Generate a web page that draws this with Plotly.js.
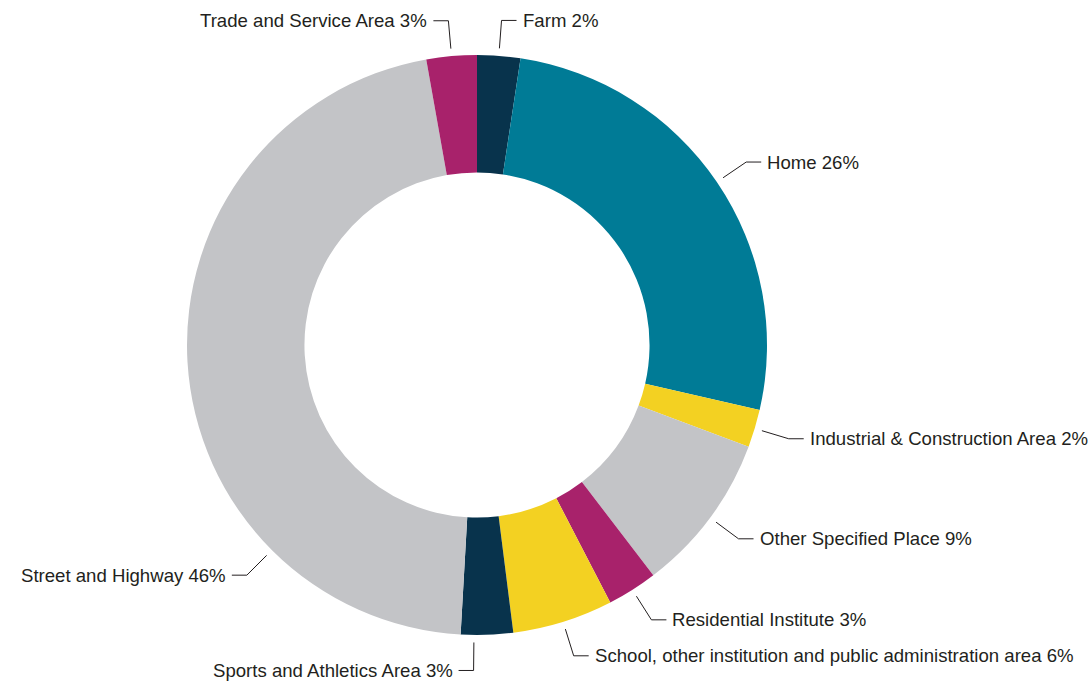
<!DOCTYPE html>
<html>
<head>
<meta charset="utf-8">
<script src="https://cdn.plot.ly/plotly-3.0.1.min.js"></script>
<style>
  html, body { margin: 0; padding: 0; background: #ffffff; }
  #chart { width: 1090px; height: 686px; }
</style>
</head>
<body>
<div id="chart"></div>
<script>
// ---- Data ----
const categories = [
  "Farm",
  "Home",
  "Industrial & Construction Area",
  "Other Specified Place",
  "Residential Institute",
  "School, other institution and public administration area",
  "Sports and Athletics Area",
  "Street and Highway",
  "Trade and Service Area"
];
const values = [2.4, 26.2, 2.1, 8.9, 2.8, 5.6, 2.9, 46.3, 2.8];

// ---- Styles ----
const sliceColors = ["#08334c", "#007b96", "#f3d122", "#c3c4c7", "#a8226b",
                     "#f3d122", "#08334c", "#c3c4c7", "#a8226b"];
const W = 1090, H = 686;
const CX = 477, CY = 345, R = 290;          // donut geometry in px
const HOLE = 0.595;
const R1 = 297.5, R2 = 325.5, HLEN = 15, GAP = 5;  // leader line geometry
const labelAngleOverride = { "Street and Highway": 225, "Sports and Athletics Area": 180.6 };
const FONT = { family: "Liberation Sans, Arial, sans-serif", size: 18.6, color: "#231f20" };

const px = x => x / W;
const py = y => 1 - y / H;

const total = values.reduce((a, b) => a + b, 0);
const shapes = [];
const annotations = [];
let cum = 0;
categories.forEach((cat, i) => {
  const a0 = cum / total * 360;
  cum += values[i];
  const a1 = cum / total * 360;
  let ang = (a0 + a1) / 2;
  if (labelAngleOverride[cat] !== undefined) ang = labelAngleOverride[cat];
  const t = ang * Math.PI / 180;
  const sx = CX + R1 * Math.sin(t), sy = CY - R1 * Math.cos(t);
  const ex = CX + R2 * Math.sin(t), ey = CY - R2 * Math.cos(t);
  const right = Math.sin(t) >= 0;
  const hx = ex + (right ? HLEN : -HLEN);
  shapes.push({
    type: "path", xref: "paper", yref: "paper",
    path: `M ${px(sx)} ${py(sy)} L ${px(ex)} ${py(ey)} L ${px(hx)} ${py(ey)}`,
    line: { color: "#231f20", width: 1 }
  });
  const pct = Math.round(values[i] / total * 100);
  annotations.push({
    xref: "paper", yref: "paper",
    x: px(hx + (right ? GAP : -GAP)), y: py(ey),
    xanchor: right ? "left" : "right", yanchor: "middle",
    text: `${cat} ${pct}%`, showarrow: false, font: FONT, borderpad: 0
  });
});

const trace = {
  type: "pie",
  labels: categories,
  values: values,
  sort: false,
  direction: "clockwise",
  rotation: 0,
  hole: HOLE,
  textinfo: "none",
  hoverinfo: "label+percent",
  showlegend: false,
  automargin: false,
  marker: { colors: sliceColors, line: { width: 0 } },
  domain: { x: [(CX - R) / W, (CX + R) / W], y: [1 - (CY + R) / H, 1 - (CY - R) / H] }
};

const layout = {
  width: W, height: H,
  margin: { l: 0, r: 0, t: 0, b: 0 },
  paper_bgcolor: "#ffffff",
  showlegend: false,
  font: FONT,
  shapes: shapes,
  annotations: annotations
};

Plotly.newPlot("chart", [trace], layout, { displayModeBar: false, staticPlot: true });
</script>
</body>
</html>
